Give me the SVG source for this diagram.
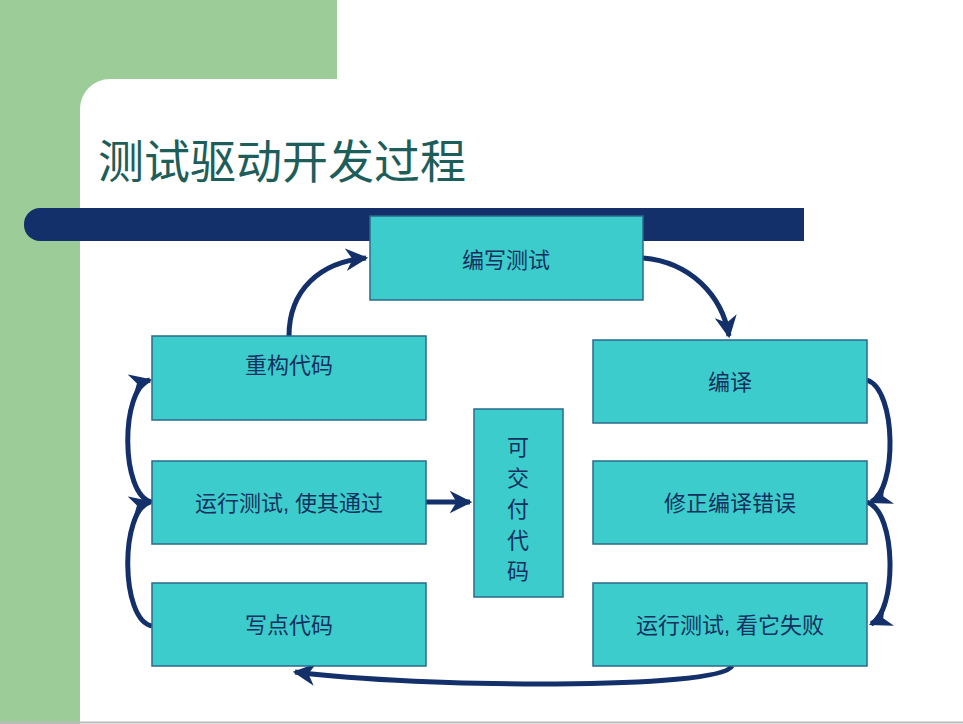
<svg xmlns="http://www.w3.org/2000/svg" width="963" height="724" viewBox="0 0 963 724">
<style>
.box{fill:#3CCCCC;stroke:#2B6A8C;stroke-width:1.5}
.t{font-family:"Liberation Sans","Noto Sans CJK SC",sans-serif;font-size:22px;fill:#14305E;text-anchor:middle}
.c{fill:none;stroke:#13306A;stroke-width:5}
</style>
<defs>
<marker id="ah" viewBox="0 0 10 10" refX="9" refY="5" markerWidth="4.5" markerHeight="4.5" orient="auto" markerUnits="strokeWidth">
<path d="M0,0 L10,5 L0,10 L3,5 Z" fill="#13306A"/>
</marker>
</defs>
<rect width="963" height="724" fill="#fff"/>
<path d="M0,0 H337 V79 H110 A30,30 0 0 0 80,109 V724 H0 Z" fill="#9CCD98"/>
<rect x="24" y="208" width="780" height="33" rx="16" fill="#13306A"/>
<rect x="40" y="208" width="764" height="33" fill="#13306A"/>
<line x1="0" y1="722.5" x2="963" y2="722.5" stroke="#bbb" stroke-width="2"/>
<text x="98" y="178" style="font-family:'Liberation Serif','Noto Sans CJK SC',serif;font-size:46px;fill:#1E5E5A">测试驱动开发过程</text>
<g id="connectors">
<path class="c" d="M289,336 C289,290 320,262 366,258" marker-end="url(#ah)"/>
<path class="c" d="M643,258 C690,262 722,295 729,336" marker-end="url(#ah)"/>
<path class="c" d="M867,380 C897,390 897,490 871,502" marker-end="url(#ah)"/>
<path class="c" d="M867,502 C897,512 897,612 871,624" marker-end="url(#ah)"/>
<path class="c" d="M732,666 C720,690 420,688 295,672" marker-end="url(#ah)"/>
<path class="c" d="M152,626 C120,620 120,510 150,502" marker-end="url(#ah)"/>
<path class="c" d="M152,502 C120,496 120,388 150,380" marker-end="url(#ah)"/>
<path class="c" d="M426,502 H470" marker-end="url(#ah)"/>
</g>
<g id="n1"><rect class="box" x="370" y="216" width="273" height="84"/><text class="t" x="506" y="268">编写测试</text></g>
<g id="n2"><rect class="box" x="593" y="340" width="274" height="83"/><text class="t" x="730" y="390">编译</text></g>
<g id="n3"><rect class="box" x="593" y="461" width="274" height="83"/><text class="t" x="730" y="511">修正编译错误</text></g>
<g id="n4"><rect class="box" x="593" y="583" width="274" height="83"/><text class="t" x="730" y="633">运行测试, 看它失败</text></g>
<g id="n5"><rect class="box" x="152" y="583" width="274" height="83"/><text class="t" x="289" y="633">写点代码</text></g>
<g id="n6"><rect class="box" x="152" y="461" width="274" height="83"/><text class="t" x="289" y="511">运行测试, 使其通过</text></g>
<g id="n7"><rect class="box" x="152" y="336" width="274" height="84"/><text class="t" x="289" y="373">重构代码</text></g>
<g id="n8"><rect class="box" x="474" y="409" width="89" height="188"/>
<text class="t" x="518" y="455">可</text><text class="t" x="518" y="486">交</text><text class="t" x="518" y="517">付</text><text class="t" x="518" y="548">代</text><text class="t" x="518" y="579">码</text></g>
</svg>
